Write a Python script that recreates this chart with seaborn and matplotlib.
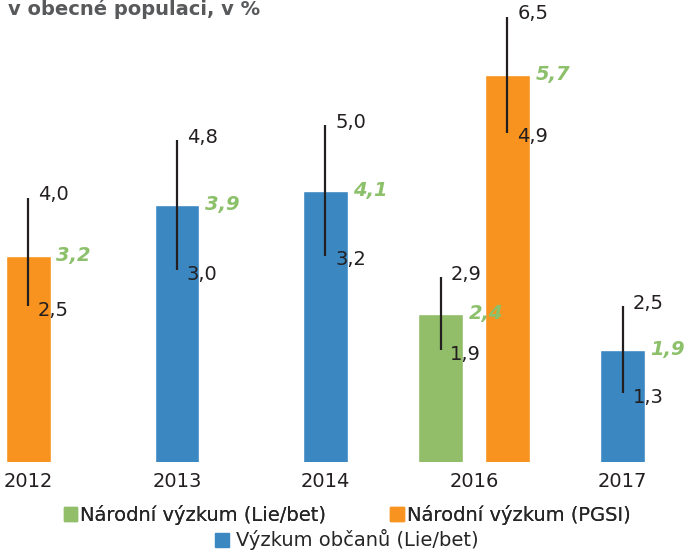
import numpy as np
import pandas as pd
import seaborn as sns
import matplotlib.pyplot as plt
from matplotlib.patches import Patch

# values
years = ['2012', '2013', '2014', '2016', '2016', '2017']
series = ['Národní výzkum (PGSI)', 'Výzkum občanů (Lie/bet)',
          'Výzkum občanů (Lie/bet)', 'Národní výzkum (Lie/bet)',
          'Národní výzkum (PGSI)', 'Výzkum občanů (Lie/bet)']
values = [3.2, 3.9, 4.1, 2.4, 5.7, 1.9]
lower = [2.5, 3.0, 3.2, 1.9, 4.9, 1.3]
upper = [4.0, 4.8, 5.0, 2.9, 6.5, 2.5]

order = ['2012', '2013', '2014', '2016', '2017']
legend_order = ['Národní výzkum (Lie/bet)', 'Národní výzkum (PGSI)',
                'Výzkum občanů (Lie/bet)']
colors = {'Národní výzkum (Lie/bet)': '#92BD69',
          'Národní výzkum (PGSI)': '#F7931E',
          'Výzkum občanů (Lie/bet)': '#3B87C1'}

df = pd.DataFrame({'year': years, 'series': series, 'value': values,
                   'low': lower, 'high': upper})

sns.set_style('white')
plt.rcParams['font.family'] = ['DejaVu Sans']

fig = plt.figure(figsize=(6.94, 5.51), dpi=100)
ax = fig.add_axes([0, 89 / 551, 1, 462 / 551])

single = df[df.year != '2016']
pair = df[df.year == '2016']
sns.barplot(data=single, x='year', y='value', hue='series', order=order,
            palette=colors, dodge=False, width=0.3, saturation=1,
            legend=False, ax=ax)
sns.barplot(data=pair, x='year', y='value', hue='series', order=order,
            hue_order=legend_order[:2], palette=colors, dodge=True,
            width=0.9, gap=1 / 3, saturation=1, legend=False, ax=ax)

# intervals and labels, matched to the drawn bars by height
for p in ax.patches:
    h = p.get_height()
    row = df[np.isclose(df.value, h)]
    if row.empty:
        continue
    row = row.iloc[0]
    xc = p.get_x() + p.get_width() / 2
    ax.vlines(xc, row.low, row.high, color='#231F20', lw=1.6)
    ax.annotate(f'{row.high:.1f}'.replace('.', ','), (xc, row.high),
                xytext=(7, 2), textcoords='offset points', va='center',
                fontsize=14, color='#231F20')
    ax.annotate(f'{row.low:.1f}'.replace('.', ','), (xc, row.low),
                xytext=(7, -3), textcoords='offset points', va='center',
                fontsize=14, color='#231F20')
    ax.annotate(f'{h:.1f}'.replace('.', ','), (p.get_x() + p.get_width(), h),
                xytext=(4, 0), textcoords='offset points', va='center',
                fontsize=14, color='#8CC06A', fontweight='bold',
                fontstyle='italic')

ax.set_xlim(-0.19, 4.48)
ax.set_ylim(0.352, 6.73)
ax.set_xlabel('')
ax.set_ylabel('')
ax.set_yticks([])
ax.tick_params(axis='x', length=0, labelsize=14, labelcolor='#231F20', pad=7)
sns.despine(ax=ax, left=True, bottom=True)

fig.text(8, 551 - 15, 'v obecné populaci, v %', transform=None,
         fontsize=14, fontweight='bold', color='#58595B', va='baseline')

h1 = [Patch(color=colors[s], label=s) for s in legend_order[:2]]
h2 = [Patch(color=colors[legend_order[2]], label=legend_order[2])]
leg1 = fig.legend(handles=h1, loc='center', bbox_to_anchor=(0.5, 1 - 515 / 551),
                  ncol=2, frameon=False, fontsize=14, handlelength=0.7,
                  handleheight=0.7, handletextpad=0.15, columnspacing=3.3)
fig.add_artist(leg1)
fig.legend(handles=h2, loc='center', bbox_to_anchor=(0.5, 1 - 540 / 551),
           frameon=False, fontsize=14, handlelength=0.7, handleheight=0.7,
           handletextpad=0.4)

fig.savefig('out.png', dpi=100)
